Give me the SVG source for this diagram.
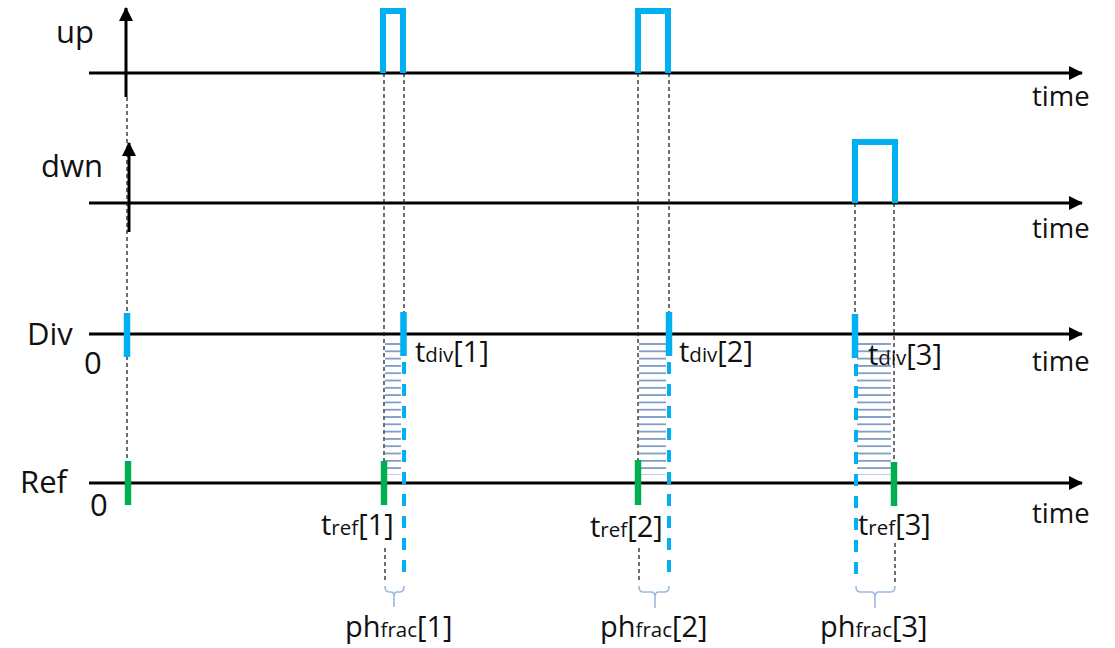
<svg xmlns="http://www.w3.org/2000/svg" width="1115" height="648" viewBox="0 0 1115 648">
  <style>
    .axis { stroke: #000; stroke-width: 3; fill: none; }
    .lbl { font-family: "Open Sans", "Noto Sans", sans-serif; font-size: 31px; fill: #111; }
    .time { font-family: "Open Sans", "Noto Sans", sans-serif; font-size: 27.5px; fill: #111; }
    .tl { font-family: "Open Sans", "Noto Sans", sans-serif; font-size: 29px; fill: #111; }
    .sub { font-size: 20.5px; }
    .pulse { stroke: #00B0F0; stroke-width: 6; fill: none; stroke-linejoin: miter; }
    .divtick { stroke: #00B0F0; stroke-width: 6.5; }
    .reftick { stroke: #00B050; stroke-width: 6.5; }
    .guide { stroke: #222; stroke-width: 1.3; stroke-dasharray: 4 3; fill: none; }
    .bluedash { stroke: #00B0F0; stroke-width: 4; stroke-dasharray: 12 10; fill: none; }
    .brace { stroke: #9DB9DB; stroke-width: 1.6; fill: none; }
  </style>
  <defs>
    <marker id="head" viewBox="0 0 14 14" refX="13" refY="7" markerWidth="14" markerHeight="14" markerUnits="userSpaceOnUse" orient="auto">
      <path d="M0,0 L14,7 L0,14 Z" fill="#000"/>
    </marker>
    <pattern id="hatch" width="10" height="7.3" patternUnits="userSpaceOnUse">
      <rect x="0" y="0" width="10" height="1.8" fill="#809DC4"/>
    </pattern>
  </defs>

  <!-- time axes -->
  <g id="axes">
    <line class="axis" x1="89" y1="73" x2="1082" y2="73" marker-end="url(#head)"/>
    <line class="axis" x1="89" y1="203" x2="1082" y2="203" marker-end="url(#head)"/>
    <line class="axis" x1="89" y1="334" x2="1082" y2="334" marker-end="url(#head)"/>
    <line class="axis" x1="89" y1="483" x2="1082" y2="483" marker-end="url(#head)"/>
    <text class="time" x="1032" y="106">time</text>
    <text class="time" x="1032" y="238">time</text>
    <text class="time" x="1032" y="371">time</text>
    <text class="time" x="1032" y="523">time</text>
  </g>

  <!-- signal names -->
  <g id="labels">
    <text class="lbl" x="56" y="43">up</text>
    <text class="lbl" x="41" y="177">dwn</text>
    <text class="lbl" x="27" y="345">Div</text>
    <text class="lbl" x="84" y="374">0</text>
    <text class="lbl" x="20" y="493">Ref</text>
    <text class="lbl" x="90" y="516">0</text>
  </g>

  <!-- phase-difference hatching between edges -->
  <g id="hatching">
    <rect x="385" y="341" width="16" height="134" fill="url(#hatch)"/>
    <rect x="639" y="341" width="27" height="134" fill="url(#hatch)"/>
    <rect x="857" y="341" width="34" height="134" fill="url(#hatch)"/>
  </g>

  <!-- dashed alignment guides -->
  <g id="connectors">
    <line class="guide" x1="127" y1="97" x2="127" y2="461"/>
    <line class="guide" x1="384" y1="73" x2="384" y2="461"/>
    <line class="guide" x1="404" y1="73" x2="404" y2="312"/>
    <line class="guide" x1="638" y1="73" x2="638" y2="460"/>
    <line class="guide" x1="669" y1="73" x2="669" y2="312"/>
    <line class="guide" x1="855" y1="203" x2="855" y2="314"/>
    <line class="guide" x1="894" y1="203" x2="894" y2="462"/>
    <line class="guide" x1="385" y1="548" x2="385" y2="581"/>
    <line class="guide" x1="639" y1="548" x2="639" y2="582"/>
    <line class="guide" x1="895" y1="543" x2="895" y2="582"/>
    <line class="bluedash" x1="404" y1="362" x2="404" y2="574"/>
    <line class="bluedash" x1="669" y1="362" x2="669" y2="580"/>
    <line class="bluedash" x1="856" y1="364" x2="856" y2="574"/>
  </g>

  <!-- vertical arrows at time 0 -->
  <g id="start-arrows">
    <line x1="126" y1="97" x2="126" y2="8" stroke="#000" stroke-width="3" marker-end="url(#head)"/>
    <line x1="129" y1="232" x2="129" y2="143" stroke="#000" stroke-width="3" marker-end="url(#head)"/>
  </g>

  <!-- up / dwn pulses -->
  <g id="pulses">
    <path class="pulse" d="M383,73 V11 H403 V73"/>
    <path class="pulse" d="M638,73 V11 H668 V73"/>
    <path class="pulse" d="M855,203 V142 H895 V203"/>
  </g>

  <!-- divided clock edges -->
  <g id="div-edges">
    <line class="divtick" x1="127" y1="313" x2="127" y2="357"/>
    <line class="divtick" x1="403.5" y1="312" x2="403.5" y2="356"/>
    <line class="divtick" x1="669" y1="312" x2="669" y2="356"/>
    <line class="divtick" x1="855" y1="314" x2="855" y2="358"/>
  </g>

  <!-- reference clock edges -->
  <g id="ref-edges">
    <line class="reftick" x1="128" y1="461" x2="128" y2="505"/>
    <line class="reftick" x1="384" y1="461" x2="384" y2="505"/>
    <line class="reftick" x1="638" y1="460" x2="638" y2="505"/>
    <line class="reftick" x1="894" y1="462" x2="894" y2="506"/>
  </g>

  <!-- edge time labels -->
  <g id="edge-labels">
    <text class="tl" x="415" y="362">t<tspan class="sub">div</tspan>[1]</text>
    <text class="tl" x="679" y="362">t<tspan class="sub">div</tspan>[2]</text>
    <text class="tl" x="868" y="365">t<tspan class="sub">div</tspan>[3]</text>
    <text class="tl" x="321" y="535">t<tspan class="sub">ref</tspan>[1]</text>
    <text class="tl" x="590" y="537">t<tspan class="sub">ref</tspan>[2]</text>
    <text class="tl" x="858" y="535">t<tspan class="sub">ref</tspan>[3]</text>
  </g>

  <!-- fractional phase braces -->
  <g id="braces">
    <path class="brace" d="M385,586 Q385,592 389,592 H391 Q394,592 394,597 V607 M394,597 Q394,592 397,592 H400 Q404,592 404,586"/>
    <path class="brace" d="M639,586 Q639,592 643,592 H651 Q655,592 655,597 V608 M655,597 Q655,592 659,592 H665 Q669,592 669,586"/>
    <path class="brace" d="M856,586 Q856,592 860,592 H871 Q875,592 875,597 V608 M875,597 Q875,592 879,592 H891 Q895,592 895,586"/>
    <text class="tl" x="345" y="637">ph<tspan class="sub">frac</tspan>[1]</text>
    <text class="tl" x="600" y="637">ph<tspan class="sub">frac</tspan>[2]</text>
    <text class="tl" x="820" y="637">ph<tspan class="sub">frac</tspan>[3]</text>
  </g>
</svg>
